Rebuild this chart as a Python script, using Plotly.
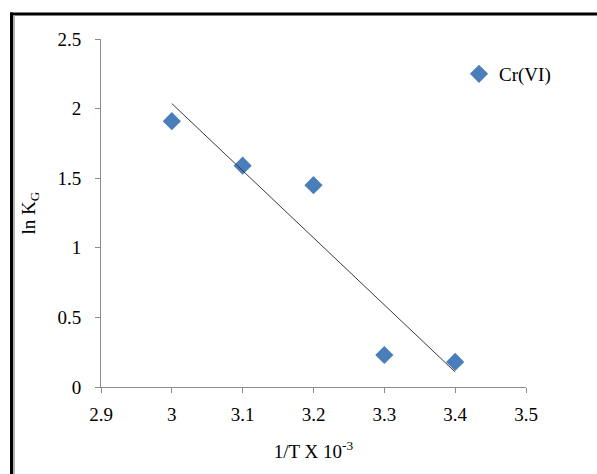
import numpy as np
import plotly.graph_objects as go

# Inverse temperature (x 10^-3) and ln K_G for Cr(VI)
inv_t = [3.0, 3.1, 3.2, 3.3, 3.4]
ln_kg = [1.91, 1.59, 1.45, 0.23, 0.18]

x_ticks = [2.9, 3.0, 3.1, 3.2, 3.3, 3.4, 3.5]
x_tick_text = ["2.9", "3", "3.1", "3.2", "3.3", "3.4", "3.5"]
y_ticks = [0, 0.5, 1, 1.5, 2, 2.5]
y_tick_text = ["0", "0.5", "1", "1.5", "2", "2.5"]

# Least-squares linear trend through the points
slope, intercept = np.polyfit(inv_t, ln_kg, 1)
trend_x = [inv_t[0], inv_t[-1]]
trend_y = [slope * v + intercept for v in trend_x]

FONT = "Liberation Serif, Times New Roman, serif"
AXIS_GRAY = "#8c8c8c"
FS = 19

fig = go.Figure()
fig.add_trace(go.Scatter(
    x=inv_t, y=ln_kg, mode="markers", name="Cr(VI)",
    marker=dict(symbol="diamond", size=14, color="#4a7ebb",
                line=dict(width=0)),
))
fig.add_trace(go.Scatter(
    x=trend_x, y=trend_y, mode="lines", showlegend=False,
    line=dict(color="#3a3a3a", width=1),
))

W, H = 597, 474
ml, mr, mt, mb = 101, 71, 39, 87
pw, ph = W - ml - mr, H - mt - mb

def px_x(p):
    return (p - ml) / pw

def px_y(p):
    return 1 - (p - mt) / ph

fig.update_layout(
    width=W, height=H,
    margin=dict(l=ml, r=mr, t=mt, b=mb),
    paper_bgcolor="white", plot_bgcolor="white",
    font=dict(family=FONT, size=FS, color="black"),
    showlegend=True,
    legend=dict(x=px_x(459), y=px_y(74), xanchor="left", yanchor="middle",
                bgcolor="rgba(0,0,0,0)", font=dict(size=FS),
                itemwidth=30, tracegroupgap=0),
    xaxis=dict(range=[2.9, 3.5], tickvals=x_ticks, ticktext=x_tick_text,
               showgrid=False, zeroline=False, showline=True,
               linecolor=AXIS_GRAY, linewidth=1,
               ticks="outside", ticklen=5, tickcolor=AXIS_GRAY,
               ticklabelstandoff=5,
               title=dict(text="1/T X 10<sup>-3</sup>", standoff=20,
                          font=dict(size=FS))),
    yaxis=dict(range=[0, 2.5], tickvals=y_ticks, ticktext=y_tick_text,
               showgrid=False, zeroline=False, showline=True,
               linecolor=AXIS_GRAY, linewidth=1,
               ticks="outside", ticklen=5, tickcolor=AXIS_GRAY,
               ticklabelstandoff=10,
               title=dict(text="ln K<sub>G</sub>", standoff=16,
                          font=dict(size=FS))),
)

# Frame edges along the top and left of the chart area
fig.add_shape(type="line", xref="paper", yref="paper",
              x0=px_x(10), x1=px_x(W + 5), y0=px_y(14), y1=px_y(14),
              line=dict(color="black", width=3))
fig.add_shape(type="line", xref="paper", yref="paper",
              x0=px_x(11.5), x1=px_x(11.5), y0=px_y(12.5), y1=px_y(H + 5),
              line=dict(color="black", width=3))
fig.add_shape(type="line", xref="paper", yref="paper",
              x0=px_x(14), x1=px_x(14), y0=px_y(15.5), y1=px_y(H + 5),
              line=dict(color="#9a9a9a", width=1.5))

fig.write_html("out.html")
